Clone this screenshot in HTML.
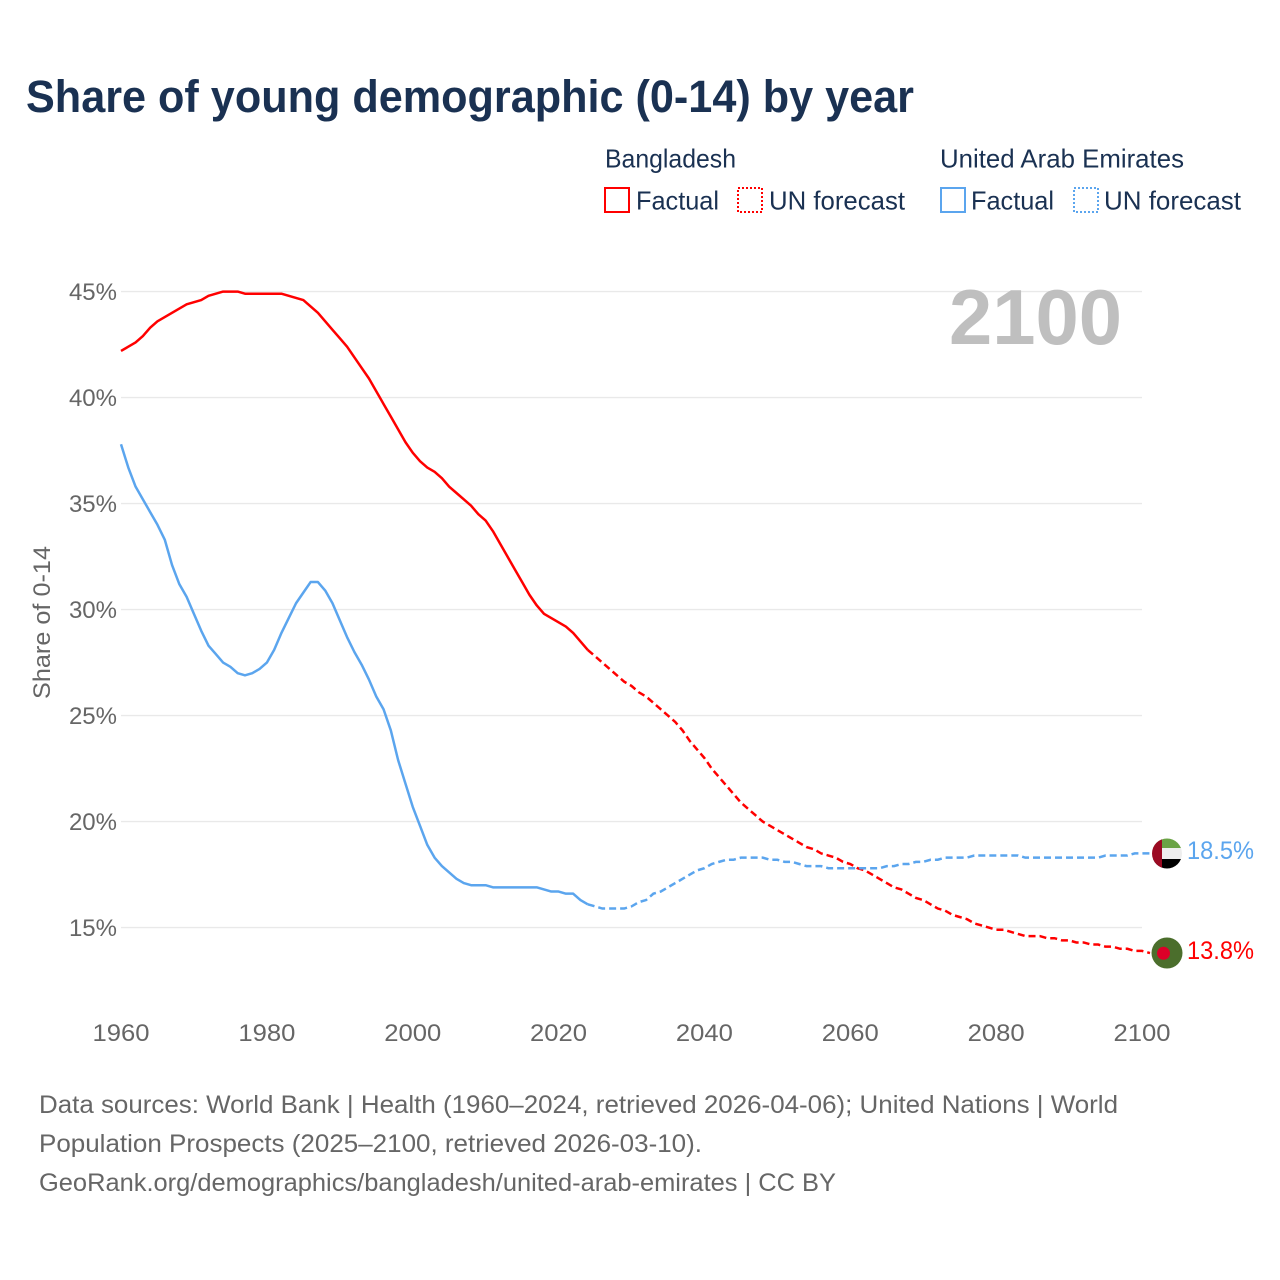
<!DOCTYPE html>
<html lang="en">
<head>
<meta charset="utf-8">
<title>Share of young demographic (0-14) by year</title>
<style>
html,body{margin:0;padding:0;background:#fff;}
svg{display:block;font-family:"Liberation Sans",sans-serif;}
</style>
</head>
<body>
<svg id="chart" xmlns="http://www.w3.org/2000/svg" width="1280" height="1280" viewBox="0 0 1280 1280">
  <defs>
    <clipPath id="clip-uae"><circle cx="1167" cy="853.5" r="15"/></clipPath>
    <clipPath id="clip-bd"><circle cx="1167" cy="953" r="15.5"/></clipPath>
  </defs>
  <rect width="1280" height="1280" fill="#fff"/>
  <text x="26" y="112" font-size="45" font-weight="700" fill="#1a3152" textLength="888" lengthAdjust="spacingAndGlyphs">Share of young demographic (0-14) by year</text>

  <g font-size="26" fill="#1a3152">
    <text x="605" y="167.5" textLength="131" lengthAdjust="spacingAndGlyphs">Bangladesh</text>
    <text x="940" y="167.5" textLength="244" lengthAdjust="spacingAndGlyphs">United Arab Emirates</text>
    <rect x="605" y="188" width="24" height="24" fill="none" stroke="#ff0000" stroke-width="2"/>
    <text x="636" y="209.5" textLength="83" lengthAdjust="spacingAndGlyphs">Factual</text>
    <rect x="738" y="188" width="24" height="24" fill="none" stroke="#ff0000" stroke-width="2" stroke-dasharray="2 2"/>
    <text x="769" y="209.5" textLength="136" lengthAdjust="spacingAndGlyphs">UN forecast</text>
    <rect x="941" y="188" width="24" height="24" fill="none" stroke="#5ba5ee" stroke-width="2"/>
    <text x="971" y="209.5" textLength="83" lengthAdjust="spacingAndGlyphs">Factual</text>
    <rect x="1074" y="188" width="24" height="24" fill="none" stroke="#5ba5ee" stroke-width="2" stroke-dasharray="2 2"/>
    <text x="1104" y="209.5" textLength="137" lengthAdjust="spacingAndGlyphs">UN forecast</text>
  </g>

  <g id="grid"></g>
  <g id="yticks" font-size="24" fill="#666" text-anchor="end"></g>
  <g id="xticks" font-size="24" fill="#666" text-anchor="middle"></g>
  <text transform="translate(50,699) rotate(-90)" font-size="24" fill="#666" textLength="153" lengthAdjust="spacingAndGlyphs">Share of 0-14</text>
  <text x="949" y="344" font-size="78" font-weight="700" fill="#bfbfbf" textLength="173" lengthAdjust="spacingAndGlyphs">2100</text>

  <g id="series"></g>

  <g clip-path="url(#clip-uae)">
    <rect x="1150" y="836" width="34" height="12" fill="#6aa345"/>
    <rect x="1150" y="848" width="34" height="11" fill="#eeeeee"/>
    <rect x="1150" y="859" width="34" height="12" fill="#000000"/>
    <rect x="1150" y="836" width="12" height="35" fill="#9b0a22"/>
  </g>
  <g>
    <circle cx="1167" cy="953" r="15.5" fill="#4b6e2c"/>
    <circle cx="1163.5" cy="953.3" r="6.5" fill="#dc0028"/>
  </g>
  <text x="1187" y="859" font-size="25" fill="#5ba5ee" textLength="67" lengthAdjust="spacingAndGlyphs">18.5%</text>
  <text x="1187" y="959" font-size="25" fill="#ff0000" textLength="67" lengthAdjust="spacingAndGlyphs">13.8%</text>

  <g font-size="25" fill="#666">
    <text x="39" y="1113" textLength="1079" lengthAdjust="spacingAndGlyphs">Data sources: World Bank | Health (1960–2024, retrieved 2026-04-06); United Nations | World</text>
    <text x="39" y="1152" textLength="663" lengthAdjust="spacingAndGlyphs">Population Prospects (2025–2100, retrieved 2026-03-10).</text>
    <text x="39" y="1191" textLength="797" lengthAdjust="spacingAndGlyphs">GeoRank.org/demographics/bangladesh/united-arab-emirates | CC BY</text>
  </g>
</svg>
<script>
const yTickValues = [15, 20, 25, 30, 35, 40, 45];
const xTickValues = [1960, 1980, 2000, 2020, 2040, 2060, 2080, 2100];
const firstYear = 1960;
const lastFactualYear = 2024;
const bangladeshValues = [
  42.2,42.4,42.6,42.9,43.3,43.6,43.8,44.0,44.2,44.4,
  44.5,44.6,44.8,44.9,45.0,45.0,45.0,44.9,44.9,44.9,
  44.9,44.9,44.9,44.8,44.7,44.6,44.3,44.0,43.6,43.2,
  42.8,42.4,41.9,41.4,40.9,40.3,39.7,39.1,38.5,37.9,
  37.4,37.0,36.7,36.5,36.2,35.8,35.5,35.2,34.9,34.5,
  34.2,33.7,33.1,32.5,31.9,31.3,30.7,30.2,29.8,29.6,
  29.4,29.2,28.9,28.5,28.1,27.8,27.5,27.2,26.9,26.6,
  26.4,26.1,25.9,25.6,25.3,25.0,24.7,24.3,23.8,23.4,
  23.0,22.5,22.1,21.7,21.3,20.9,20.6,20.3,20.0,19.8,
  19.6,19.4,19.2,19.0,18.8,18.7,18.5,18.4,18.3,18.1,
  18.0,17.8,17.7,17.5,17.3,17.1,16.9,16.8,16.6,16.4,
  16.3,16.1,15.9,15.8,15.6,15.5,15.4,15.2,15.1,15.0,
  14.9,14.9,14.8,14.7,14.6,14.6,14.6,14.5,14.5,14.4,
  14.4,14.3,14.3,14.2,14.2,14.1,14.1,14.0,14.0,13.9,13.9
];
const uaeValues = [
  37.8,36.7,35.8,35.2,34.6,34.0,33.3,32.1,31.2,30.6,
  29.8,29.0,28.3,27.9,27.5,27.3,27.0,26.9,27.0,27.2,
  27.5,28.1,28.9,29.6,30.3,30.8,31.3,31.3,30.9,30.3,
  29.5,28.7,28.0,27.4,26.7,25.9,25.3,24.3,22.9,21.8,
  20.7,19.8,18.9,18.3,17.9,17.6,17.3,17.1,17.0,17.0,
  17.0,16.9,16.9,16.9,16.9,16.9,16.9,16.9,16.8,16.7,
  16.7,16.6,16.6,16.3,16.1,16.0,15.9,15.9,15.9,15.9,
  16.0,16.2,16.3,16.6,16.7,16.9,17.1,17.3,17.5,17.7,
  17.8,18.0,18.1,18.2,18.2,18.3,18.3,18.3,18.3,18.2,
  18.2,18.1,18.1,18.0,17.9,17.9,17.9,17.8,17.8,17.8,
  17.8,17.8,17.8,17.8,17.8,17.9,17.9,18.0,18.0,18.1,
  18.1,18.2,18.2,18.3,18.3,18.3,18.3,18.4,18.4,18.4,
  18.4,18.4,18.4,18.4,18.3,18.3,18.3,18.3,18.3,18.3,
  18.3,18.3,18.3,18.3,18.3,18.4,18.4,18.4,18.4,18.5,18.5
];
const bangladeshEndValue = 13.8;
const uaeEndValue = 18.5;

const NS = 'http://www.w3.org/2000/svg';
function xScale(year) { return 121 + (year - 1960) * (1021 / 140); }
function yScale(value) { return 927.6 - (value - 15) * 21.2; }

const gridGroup = document.getElementById('grid');
const yTickGroup = document.getElementById('yticks');
const xTickGroup = document.getElementById('xticks');
const seriesGroup = document.getElementById('series');

yTickValues.forEach(function (tick) {
  const line = document.createElementNS(NS, 'line');
  
  
  line.setAttribute('x1', xScale(1960));
  line.setAttribute('x2', xScale(2100));
  line.setAttribute('y1', yScale(tick));
  line.setAttribute('y2', yScale(tick));
  line.setAttribute('stroke', '#e9e9e9');
  line.setAttribute('stroke-width', '1.4');
  gridGroup.appendChild(line);
  const label = document.createElementNS(NS, 'text');
  
  
  label.setAttribute('x', 117);
  label.setAttribute('y', yScale(tick) + 8.4);
  label.textContent = tick + '%';
  yTickGroup.appendChild(label);
});

xTickValues.forEach(function (tick) {
  const label = document.createElementNS(NS, 'text');
  
  
  label.setAttribute('x', xScale(tick));
  label.setAttribute('y', 1041);
  label.setAttribute('textLength', 57);
  label.setAttribute('lengthAdjust', 'spacingAndGlyphs');
  label.textContent = tick;
  xTickGroup.appendChild(label);
});

function buildPath(values, from, to, endValue) {
  let d = '';
  for (let i = from; i <= to; i++) {
    d += (d ? 'L' : 'M') + xScale(firstYear + i).toFixed(2) + ' ' + yScale(values[i]).toFixed(2);
  }
  if (endValue !== null) {
    d += 'L' + (xScale(firstYear + to) + 8).toFixed(2) + ' ' + yScale(endValue).toFixed(2);
  }
  return d;
}

function drawSeries(name, values, endValue, color) {
  const split = lastFactualYear - firstYear;
  const factual = document.createElementNS(NS, 'path');
  
  
  factual.setAttribute('d', buildPath(values, 0, split, null));
  factual.setAttribute('fill', 'none');
  factual.setAttribute('stroke', color);
  factual.setAttribute('stroke-width', '2.5');
  factual.setAttribute('stroke-linejoin', 'round');
  seriesGroup.appendChild(factual);
  const forecast = document.createElementNS(NS, 'path');
  
  
  forecast.setAttribute('d', buildPath(values, split, values.length - 1, endValue));
  forecast.setAttribute('fill', 'none');
  forecast.setAttribute('stroke', color);
  forecast.setAttribute('stroke-width', '2.5');
  forecast.setAttribute('stroke-dasharray', '7 4');
  seriesGroup.appendChild(forecast);
}

drawSeries('bangladesh', bangladeshValues, bangladeshEndValue, '#ff0000');
drawSeries('uae', uaeValues, uaeEndValue, '#5ba5ee');
</script>
</body>
</html>
